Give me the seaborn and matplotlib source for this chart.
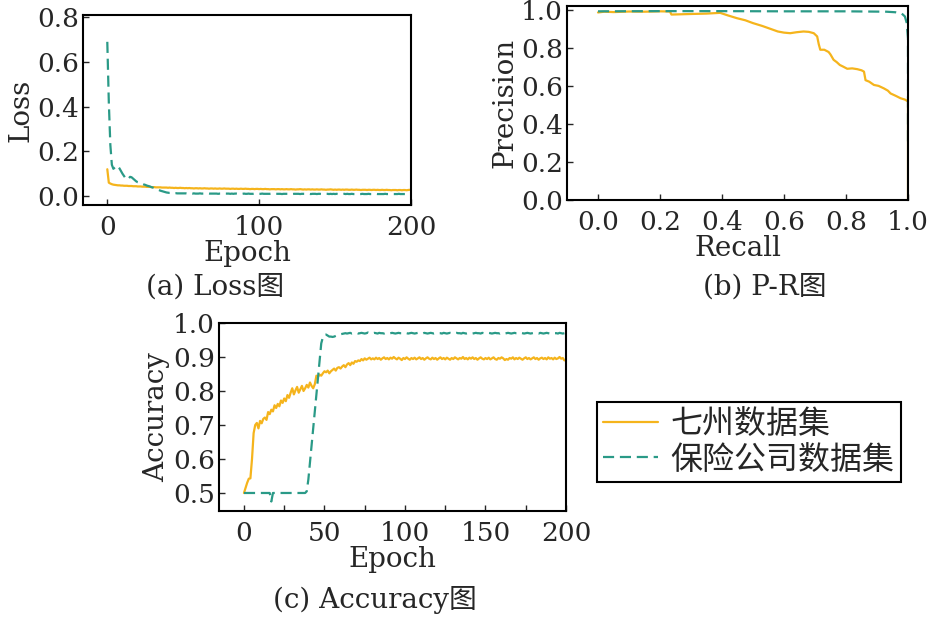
import numpy as np
import pandas as pd
import matplotlib
matplotlib.use("Agg")
import matplotlib.pyplot as plt
from matplotlib.ticker import MultipleLocator
import seaborn as sns

# ---- data ----
epochs = list(range(200))

loss_qizhou = [
    .120, .060, .056, .053, .051, .050, .049, .048, .048, .047,
    .047, .046, .046, .046, .045, .045, .045, .044, .044, .044,
    .043, .043, .043, .042, .042, .042, .041, .041, .041, .040,
    .040, .040, .039, .039, .039, .039, .038, .038, .038, .038,
    .037, .038, .037, .037, .036, .037, .036, .036, .037, .036,
    .036, .035, .036, .035, .036, .035, .035, .034, .035, .035,
    .034, .035, .034, .034, .035, .034, .034, .033, .034, .034,
    .033, .034, .033, .033, .034, .033, .033, .034, .033, .033,
    .033, .032, .033, .033, .032, .033, .032, .032, .033, .032,
    .032, .033, .032, .032, .031, .032, .032, .031, .032, .032,
    .031, .032, .031, .031, .032, .031, .031, .030, .031, .031,
    .031, .030, .031, .031, .030, .031, .030, .030, .031, .030,
    .030, .031, .030, .030, .029, .030, .030, .031, .030, .029,
    .030, .029, .030, .030, .029, .030, .029, .029, .030, .029,
    .029, .030, .029, .029, .028, .029, .029, .030, .029, .028,
    .029, .028, .029, .029, .028, .029, .028, .029, .029, .028,
    .028, .029, .028, .028, .029, .028, .028, .027, .028, .028,
    .028, .027, .028, .028, .027, .028, .028, .027, .028, .027,
    .027, .028, .027, .027, .028, .027, .027, .026, .027, .027,
    .027, .026, .027, .027, .026, .027, .027, .026, .027, .028,
]

loss_insurance = [
    .690, .420, .230, .140, .122, .128, .136, .133, .124, .112,
    .100, .090, .080, .074, .078, .086, .084, .078, .072, .066,
    .062, .060, .057, .055, .052, .050, .047, .045, .043, .040,
    .038, .035, .032, .030, .027, .024, .022, .020, .018, .016,
    .015, .014, .014, .013, .013, .013, .012, .012, .012, .012,
    .012, .012, .012, .011, .012, .012, .011, .012, .011, .011,
    .011, .012, .011, .011, .011, .011, .012, .011, .011, .011,
    .011, .011, .011, .010, .011, .011, .011, .010, .011, .011,
    .011, .010, .011, .010, .011, .011, .010, .011, .010, .010,
    .011, .010, .010, .011, .010, .010, .010, .011, .010, .010,
    .010, .010, .011, .010, .010, .010, .010, .010, .011, .010,
    .010, .010, .010, .010, .010, .009, .010, .010, .010, .010,
    .010, .010, .009, .010, .010, .010, .010, .009, .010, .010,
    .010, .009, .010, .010, .009, .010, .010, .010, .009, .010,
    .010, .009, .010, .009, .010, .010, .009, .010, .009, .010,
    .009, .010, .009, .010, .009, .009, .010, .009, .010, .009,
    .009, .010, .009, .009, .010, .009, .009, .009, .010, .009,
    .009, .009, .010, .009, .009, .009, .009, .010, .009, .009,
    .009, .009, .009, .010, .009, .009, .009, .009, .009, .009,
    .009, .009, .010, .009, .009, .009, .009, .009, .009, .009,
]

acc_qizhou = [
    .500, .515, .530, .542, .543, .600, .676, .700, .706, .690,
    .712, .705, .718, .722, .715, .738, .732, .745, .740, .758,
    .750, .762, .755, .772, .765, .778, .770, .788, .780, .795,
    .808, .790, .802, .812, .795, .805, .815, .800, .808, .818,
    .810, .825, .815, .808, .820, .845, .842, .848, .845, .852,
    .858, .855, .860, .852, .858, .862, .866, .860, .868, .870,
    .866, .872, .876, .870, .878, .882, .876, .884, .880, .888,
    .886, .890, .888, .894, .890, .896, .892, .895, .898, .893,
    .896, .893, .898, .894, .897, .892, .896, .899, .894, .897,
    .893, .898, .895, .900, .896, .893, .898, .895, .891, .897,
    .894, .899, .895, .892, .897, .894, .898, .893, .896, .899,
    .894, .897, .892, .896, .899, .895, .893, .898, .894, .897,
    .892, .896, .899, .894, .897, .893, .898, .895, .892, .897,
    .894, .899, .896, .893, .897, .895, .900, .894, .897, .893,
    .898, .895, .899, .894, .897, .892, .896, .899, .895, .893,
    .897, .894, .898, .893, .896, .899, .894, .892, .897, .895,
    .899, .896, .891, .894, .892, .897, .895, .899, .893, .897,
    .894, .898, .895, .892, .896, .899, .894, .897, .893, .896,
    .899, .894, .897, .892, .896, .898, .894, .897, .893, .899,
    .895, .897, .893, .898, .894, .896, .900, .895, .897, .890,
]

acc_insurance = [
    .500, .500, .500, .500, .500, .500, .500, .500, .500, .500,
    .500, .500, .500, .500, .500, .500, .500, .475, .500, .500,
    .500, .500, .500, .500, .500, .500, .500, .500, .500, .500,
    .500, .500, .500, .500, .500, .500, .500, .500, .500, .505,
    .540, .590, .640, .690, .740, .790, .840, .890, .940, .958,
    .965, .966, .963, .960, .960, .959, .960, .962, .964, .966,
    .967, .968, .969, .970, .969, .970, .971, .969, .970, .970,
    .971, .969, .970, .971, .970, .969, .970, .972, .970, .969,
    .970, .971, .970, .969, .971, .970, .970, .969, .971, .970,
    .969, .970, .971, .970, .969, .970, .971, .970, .970, .969,
    .971, .970, .969, .970, .971, .970, .969, .970, .971, .970,
    .970, .969, .971, .970, .969, .970, .971, .970, .969, .970,
    .971, .970, .970, .969, .971, .970, .969, .970, .971, .970,
    .969, .970, .971, .970, .970, .969, .971, .970, .969, .970,
    .971, .970, .969, .970, .971, .970, .970, .969, .971, .970,
    .969, .970, .971, .970, .969, .970, .971, .970, .970, .969,
    .971, .970, .969, .970, .971, .970, .969, .970, .971, .970,
    .970, .969, .971, .970, .969, .970, .971, .970, .969, .970,
    .971, .970, .970, .969, .971, .970, .969, .970, .971, .970,
    .969, .970, .971, .970, .970, .969, .971, .970, .969, .970,
]

pr_recall_qizhou = [0.0, 0.02, 0.05, 0.10, 0.15, 0.20, 0.232, 0.237, 0.30, 0.35,
                    0.394, 0.42, 0.448, 0.475, 0.50, 0.53, 0.556, 0.58, 0.60, 0.62,
                    0.64, 0.663, 0.68, 0.696, 0.707, 0.712, 0.717, 0.73, 0.744, 0.75,
                    0.76, 0.77, 0.78, 0.79, 0.804, 0.82, 0.836, 0.85, 0.858, 0.863,
                    0.875, 0.89, 0.905, 0.922, 0.935, 0.944, 0.96, 0.976, 0.99, 1.0, 1.0]
pr_precision_qizhou = [0.986, 0.990, 0.988, 0.991, 0.990, 0.992, 0.991, 0.975, 0.978, 0.980,
                       0.984, 0.970, 0.956, 0.945, 0.930, 0.915, 0.900, 0.886, 0.880, 0.877,
                       0.882, 0.886, 0.884, 0.877, 0.860, 0.820, 0.790, 0.790, 0.778, 0.765,
                       0.737, 0.725, 0.710, 0.702, 0.690, 0.692, 0.688, 0.682, 0.675, 0.630,
                       0.622, 0.605, 0.600, 0.587, 0.575, 0.560, 0.548, 0.535, 0.528, 0.518, 0.0]

pr_recall_insurance = [0.0, 0.2, 0.4, 0.6, 0.8, 0.93, 0.96, 0.98, 0.99, 0.996, 1.0, 1.0]
pr_precision_insurance = [0.992, 0.993, 0.993, 0.992, 0.992, 0.990, 0.987, 0.980, 0.965, 0.93, 0.85, 0.28]

series_names = ["七州数据集", "保险公司数据集"]
yellow = "#F5B41C"
teal = "#2A9A87"

# ---- style ----
sns.set_style("ticks")
plt.rcParams['font.family'] = ['DejaVu Serif', 'Noto Sans CJK SC']
plt.rcParams['axes.linewidth'] = 1.5

fig = plt.figure(figsize=(9.3, 6.17), dpi=100)
W, H = 930, 617

def add_axes_px(left, top, right, bottom):
    return fig.add_axes([left / W, 1 - bottom / H, (right - left) / W, (bottom - top) / H])

ax_loss = add_axes_px(83, 15, 411, 205)
ax_pr = add_axes_px(567, 6, 908, 200)
ax_acc = add_axes_px(219, 323, 566, 511)

TICK_FS = 19
LABEL_FS = 20

def style_axis(ax):
    for s in ax.spines.values():
        s.set_visible(True)
        s.set_color("black")
        s.set_linewidth(1.5)
    ax.tick_params(which='both', direction='in', length=4, width=1, labelsize=TICK_FS,
                   top=False, right=False)
    ax.tick_params(axis='x', pad=7)
    ax.tick_params(axis='y', pad=3)

dash = (5, 2.6)

# (a) loss
sns.lineplot(x=epochs, y=loss_qizhou, ax=ax_loss, color=yellow, lw=1.6)
sns.lineplot(x=epochs, y=loss_insurance, ax=ax_loss, color=teal, lw=1.6)
ax_loss.lines[-1].set_dashes(dash)
ax_loss.set_xlim(-16, 200)
ax_loss.set_ylim(-0.04, 0.81)
ax_loss.set_xticks([0, 100, 200])
ax_loss.set_yticks([0.0, 0.2, 0.4, 0.6, 0.8])
ax_loss.set_xlabel("Epoch", fontsize=LABEL_FS, labelpad=0)
ax_loss.set_ylabel("Loss", fontsize=LABEL_FS, labelpad=2)
style_axis(ax_loss)

# (b) P-R
sns.lineplot(x=pr_recall_qizhou, y=pr_precision_qizhou, ax=ax_pr, color=yellow, lw=1.6,
             estimator=None, sort=False)
sns.lineplot(x=pr_recall_insurance, y=pr_precision_insurance, ax=ax_pr, color=teal, lw=1.6,
             estimator=None, sort=False)
ax_pr.lines[-1].set_dashes(dash)
ax_pr.set_xlim(-0.1, 1.0)
ax_pr.set_ylim(0.0, 1.02)
ax_pr.set_xticks([0.0, 0.2, 0.4, 0.6, 0.8, 1.0])
ax_pr.set_yticks([0.0, 0.2, 0.4, 0.6, 0.8, 1.0])
ax_pr.xaxis.set_major_formatter(lambda v, p: f"{v:.1f}")
ax_pr.yaxis.set_major_formatter(lambda v, p: f"{v:.1f}")
ax_pr.set_xlabel("Recall", fontsize=LABEL_FS, labelpad=0)
ax_pr.set_ylabel("Precision", fontsize=LABEL_FS, labelpad=2)
style_axis(ax_pr)

# (c) accuracy
sns.lineplot(x=epochs, y=acc_qizhou, ax=ax_acc, color=yellow, lw=1.6, label=series_names[0])
sns.lineplot(x=epochs, y=acc_insurance, ax=ax_acc, color=teal, lw=1.6, label=series_names[1])
ax_acc.lines[-1].set_dashes(dash)
ax_acc.set_xlim(-15.5, 200)
ax_acc.set_ylim(0.447, 1.0)
ax_acc.set_xticks([0, 50, 100, 150, 200])
ax_acc.xaxis.set_minor_locator(MultipleLocator(25))
ax_acc.set_yticks([0.5, 0.6, 0.7, 0.8, 0.9, 1.0])
ax_acc.yaxis.set_major_formatter(lambda v, p: f"{v:.1f}")
ax_acc.set_xlabel("Epoch", fontsize=LABEL_FS, labelpad=0)
ax_acc.set_ylabel("Accuracy", fontsize=LABEL_FS, labelpad=2)
style_axis(ax_acc)

handles, labels = ax_acc.get_legend_handles_labels()
ax_acc.get_legend().remove()
leg = fig.legend(handles, labels, loc='upper left', bbox_to_anchor=(597 / W, 1 - 402 / H),
                 prop={'family': ['Noto Sans CJK SC'], 'size': 23},
                 frameon=True, fancybox=False, edgecolor='black', framealpha=1,
                 handlelength=1.7, handletextpad=0.4, labelspacing=0.1,
                 borderpad=0.2, borderaxespad=0)
leg.get_frame().set_linewidth(1.5)

# captions
fig.text(215 / W, 1 - 287 / H, "(a) Loss图", ha='center', va='center', fontsize=LABEL_FS)
fig.text(765 / W, 1 - 287 / H, "(b) P-R图", ha='center', va='center', fontsize=LABEL_FS)
fig.text(375 / W, 1 - 600 / H, "(c) Accuracy图", ha='center', va='center', fontsize=LABEL_FS)

fig.savefig("out.png", dpi=100)
